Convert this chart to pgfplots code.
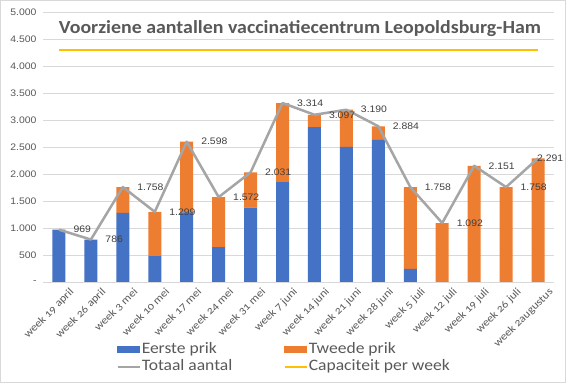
\documentclass[border=0pt]{standalone}
\usepackage{pgfplots}
\pgfplotsset{compat=1.18}
\usepackage{pgfplotstable}
\usepackage{fontspec}
\setmainfont{Carlito}[Numbers=OldStyle]
\newfontfamily\arial{Liberation Sans}
\definecolor{cblue}{HTML}{4472C4}
\definecolor{corange}{HTML}{ED7D31}
\definecolor{cgray}{HTML}{A5A5A5}
\definecolor{cyellow}{HTML}{FFC000}
\definecolor{cgrid}{HTML}{D9D9D9}
\definecolor{ctext}{HTML}{595959}
\definecolor{clabel}{HTML}{404040}
\newcommand\sx[1]{\scalebox{1.1}[1]{#1}}
\newcommand\lastlab{\hspace*{-14bp}2.291}

\pgfplotstableread{
x eerste tweede totaal label
0 969 0 969 969
1 786 0 786 786
2 1280 478 1758 1.758
3 490 809 1299 1.299
4 1290 1308 2598 2.598
5 645 927 1572 1.572
6 1375 656 2031 2.031
7 1850 1464 3314 3.314
8 2870 227 3097 3.097
9 2500 690 3190 3.190
10 2630 254 2884 2.884
11 245 1513 1758 1.758
12 0 1092 1092 1.092
13 0 2151 2151 2.151
14 0 1758 1758 1.758
15 0 2291 2291 \lastlab
}\data

\begin{document}
\begin{tikzpicture}
\useasboundingbox (0,0) rectangle (566bp,383bp);
\fill[white] (0,0) rectangle (566bp,383bp);
\draw[cgrid, line width=0.75bp] (0.5bp,0.5bp) rectangle (565.5bp,382.5bp);
\begin{axis}[
  at={(43bp,101bp)}, anchor=south west, scale only axis,
  width=511bp, height=270bp,
  xmin=-0.5, xmax=15.5, ymin=0, ymax=5000,
  ybar stacked, bar width=13bp,
  axis line style={draw=none}, tick style={draw=none},
  ymajorgrids, grid style={cgrid, line width=0.75bp},
  ytick={0,500,...,5000},
  yticklabels={\sx{-},\sx{500},\sx{1.000},\sx{1.500},\sx{2.000},\sx{2.500},\sx{3.000},\sx{3.500},\sx{4.000},\sx{4.500},\sx{5.000}},
  yticklabel style={font=\arial\fontsize{9.5}{11}\selectfont, text=ctext, xshift=-3bp},
  xtick={0,...,15},
  xticklabels={\sx{week 19 april},\sx{week 26 april},\sx{week 3 mei},\sx{week 10 mei},\sx{week 17 mei},\sx{week 24 mei},\sx{week 31 mei},\sx{week 7 juni},\sx{week 14 juni},\sx{week 21 juni},\sx{week 28 juni},\sx{week 5 juli},\sx{week 12 juli},\sx{week 19 juli},\sx{week 26 juli},\sx{week 2augustus}},
  xticklabel style={xshift=10bp, rotate=45, anchor=north east, font=\fontsize{11}{12}\selectfont, text=ctext},
]
\addplot[fill=cblue, draw=none] table[x=x,y=eerste]{\data};
\addplot[fill=corange, draw=none] table[x=x,y=tweede]{\data};
\end{axis}
\begin{axis}[
  at={(43bp,101bp)}, anchor=south west, scale only axis,
  width=511bp, height=270bp,
  xmin=-0.5, xmax=15.5, ymin=0, ymax=5000,
  hide axis, clip=false,
  legend columns=2,
  legend cell align=left,
  legend style={at={(axis description cs:0.143,-0.22)}, anchor=north west,
    draw=none, fill=none, inner sep=0pt, row sep=0bp,
    nodes={text height=11bp, text depth=4bp, inner sep=1bp},
    font=\fontsize{16}{18}\selectfont, text=ctext,
    /tikz/every even column/.append style={column sep=50bp}},
]
\addlegendimage{legend image code/.code={\fill[cblue] (0bp,-2bp) rectangle (22bp,3.5bp);}}
\addlegendentry{\sx{Eerste prik}}
\addlegendimage{legend image code/.code={\fill[corange] (0bp,-2bp) rectangle (22bp,3.5bp);}}
\addlegendentry{\sx{Tweede prik}}
\addplot[cgray, line width=2.5bp, line join=round,
  legend image code/.code={\draw[cgray, line width=2.5bp] (0bp,0bp) -- (22bp,0bp);},
  nodes near coords={\sx{\pgfplotspointmeta}}, point meta=explicit symbolic,
  nodes near coords style={anchor=west, xshift=10bp, font=\arial\fontsize{9.5}{11}\selectfont, text=clabel}]
  table[x=x,y=totaal,meta=label]{\data};
\addlegendentry{\sx{Totaal aantal}}
\addplot[cyellow, line width=2.5bp,
  legend image code/.code={\draw[cyellow, line width=2.5bp] (0bp,0bp) -- (22bp,0bp);}]
  coordinates {(0,4300) (15,4300)};
\addlegendentry{\sx{Capaciteit per week}}
\end{axis}
\node[anchor=base, font=\fontsize{18.5}{20}\selectfont\bfseries, text=ctext] at (300bp,349.7bp) {\scalebox{1.08}[1]{Voorziene aantallen vaccinatiecentrum Leopoldsburg-Ham}};
\end{tikzpicture}
\end{document}
